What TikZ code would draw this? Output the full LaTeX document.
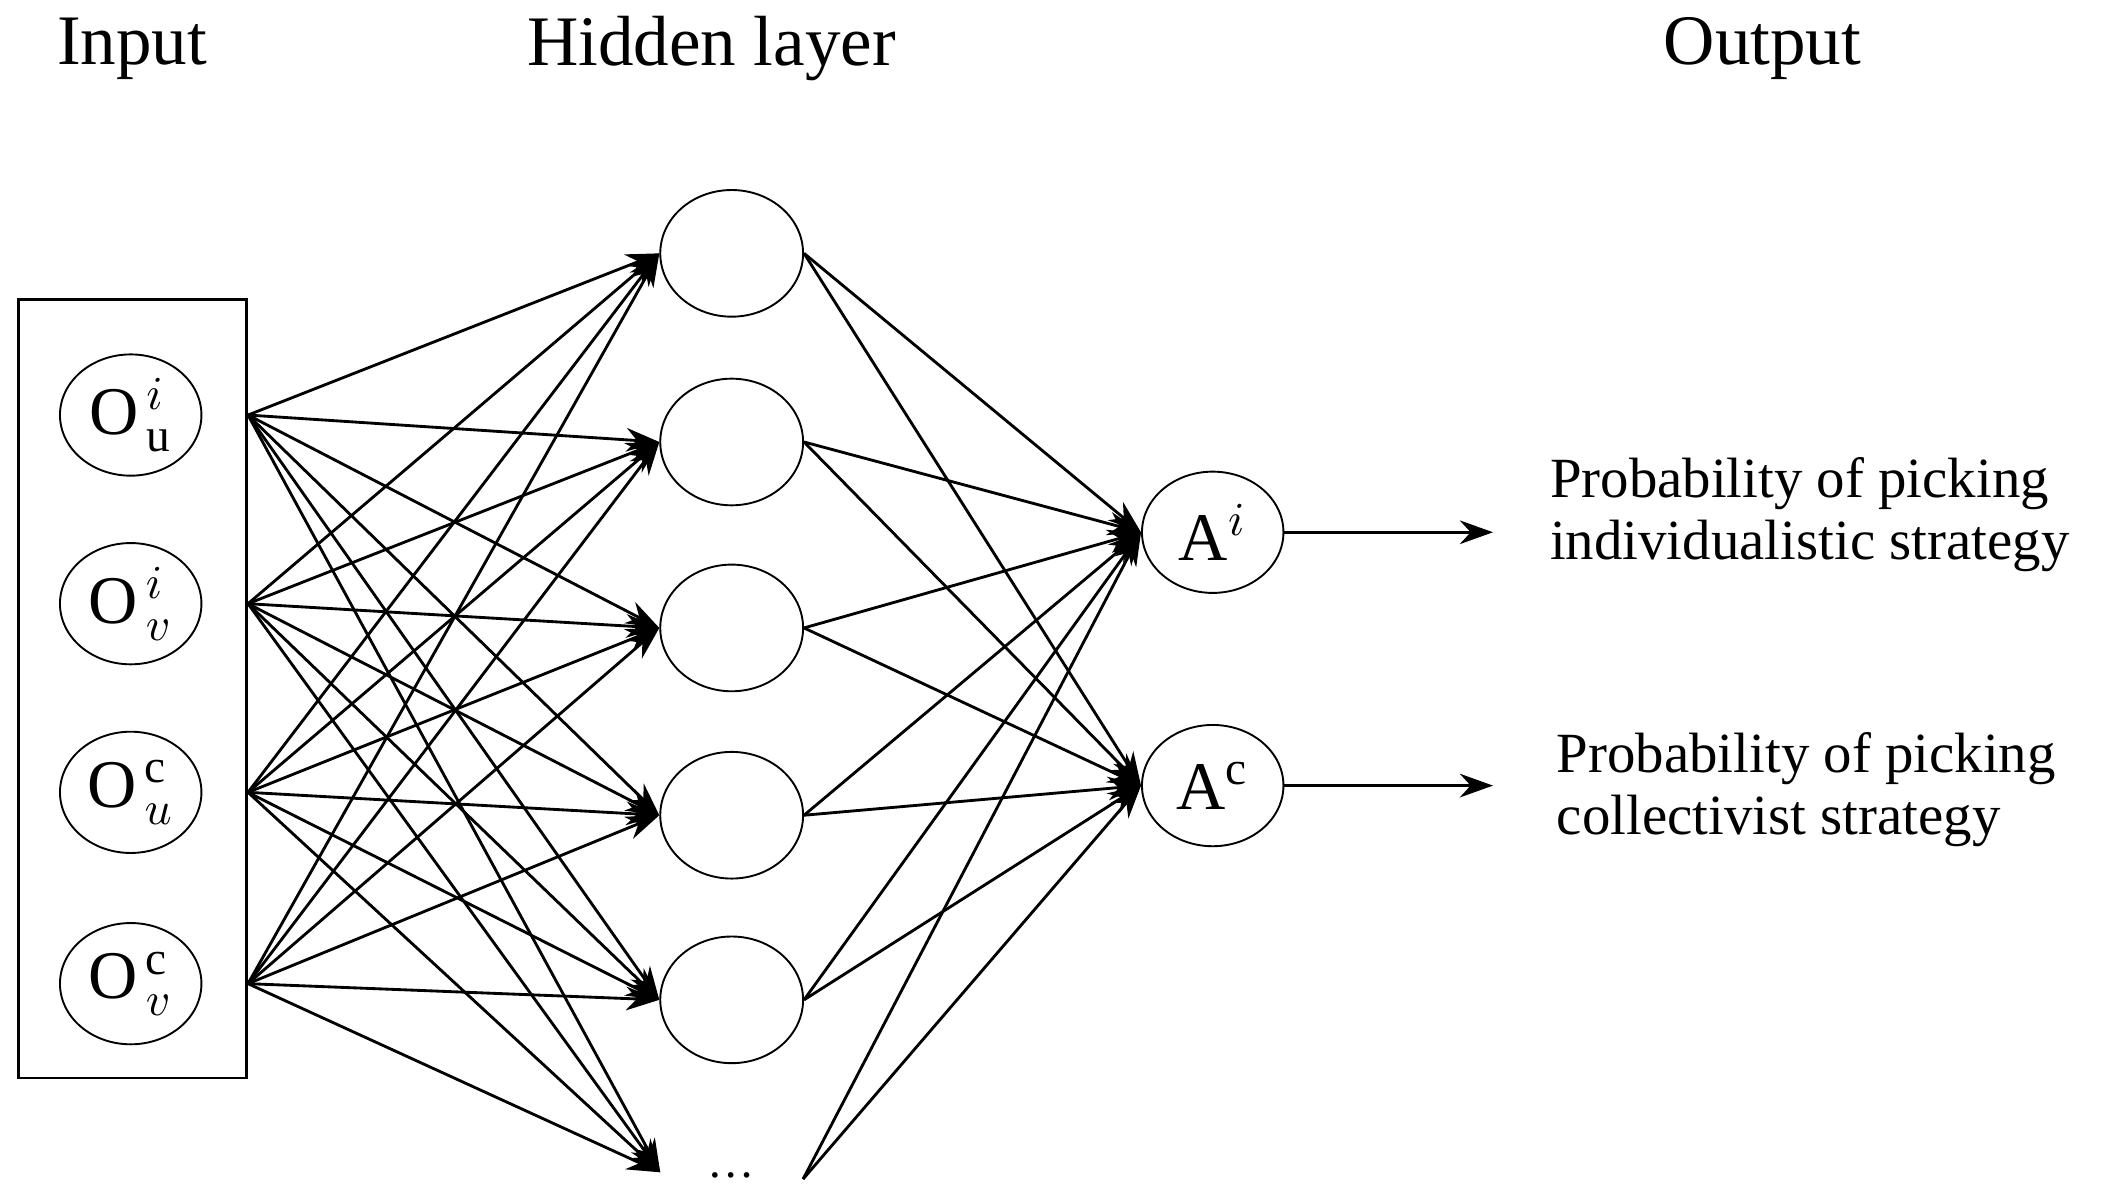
\documentclass[tikz,border=0pt]{standalone}
\usepackage{fontspec}
\setmainfont{Liberation Serif}
\usetikzlibrary{shapes.geometric,arrows.meta}
\tikzset{
  unit/.style={draw, ellipse, minimum width=1.05cm, minimum height=0.9cm, inner sep=0pt},
  hid/.style={draw, ellipse, minimum width=1.06cm, minimum height=0.94cm, inner sep=0pt},
  link/.style={-{Stealth[length=7pt,width=5pt]}, semithick},
  title/.style={font=\fontsize{15}{17}\selectfont},
  note/.style={font=\fontsize{12}{14}\selectfont, align=left, anchor=west},
}
\begin{document}
\begin{tikzpicture}
		\useasboundingbox (0,0) rectangle (15.60,-8.935);
		% titles
		\node[title] (tin) at (0.98,-0.36) {Input};
		\node[title] (thid) at (5.28,-0.36) {Hidden layer};
		\node[title] (tout) at (13.08,-0.36) {Output};
		% input box
		\node[draw, semithick, minimum width=1.69cm, minimum height=5.78cm] (box) at (0.985,-5.11) {};
		\node[unit] (in-1) at (0.97,-3.08) {\Large $\mathrm{O}^{\,i}_{\,\mathrm{u}}$};
		\node[unit] (in-2) at (0.97,-4.48) {\Large $\mathrm{O}^{\,i}_{\,v}$};
		\node[unit] (in-3) at (0.97,-5.88) {\Large $\mathrm{O}^{\,\mathrm{c}}_{\,u}$};
		\node[unit] (in-4) at (0.97,-7.30) {\Large $\mathrm{O}^{\,\mathrm{c}}_{\,v}$};
		\foreach \i in {1,...,4}
			\coordinate (src-\i) at (box.east |- in-\i);
		% hidden layer
		\foreach \j/\y in {1/-1.88,2/-3.28,3/-4.66,4/-6.05,5/-7.42}
			\node[hid] (h-\j) at (5.43,\y) {};
		\node (dots) at (5.43,-8.72) {\dots};
		\coordinate (h-6in) at (4.90,-8.70);
		\coordinate (h-6out) at (5.96,-8.75);
		\foreach \j in {1,...,5} {
			\coordinate (h-\j in) at (h-\j.west);
			\coordinate (h-\j out) at (h-\j.east);
		}
		% output layer
		\node[unit] (a-1) at (9.00,-3.95) {\Large $\mathrm{A}^{i}$};
		\node[unit] (a-2) at (9.00,-5.83) {\Large $\mathrm{A}^{\mathrm{c}}$};
		\coordinate (p-1) at (11.08,-3.95);
		\coordinate (p-2) at (11.08,-5.83);
		% connections
		\foreach \i in {1,...,4}
			\foreach \j in {1,...,6}
				\draw[link] (src-\i) -- (h-\j in);
		\foreach \j in {1,...,6}
			\foreach \k in {1,2}
				\draw[link] (h-\j out) -- (a-\k.west);
		\foreach \k in {1,2}
			\draw[link] (a-\k) -- (p-\k);
		% labels
		\node[note] (lab-1) at (11.38,-3.82) {Probability of picking\\[-1pt]individualistic strategy};
		\node[note] (lab-2) at (11.43,-5.86) {Probability of picking\\[-1pt]collectivist strategy};
\end{tikzpicture}
\end{document}
